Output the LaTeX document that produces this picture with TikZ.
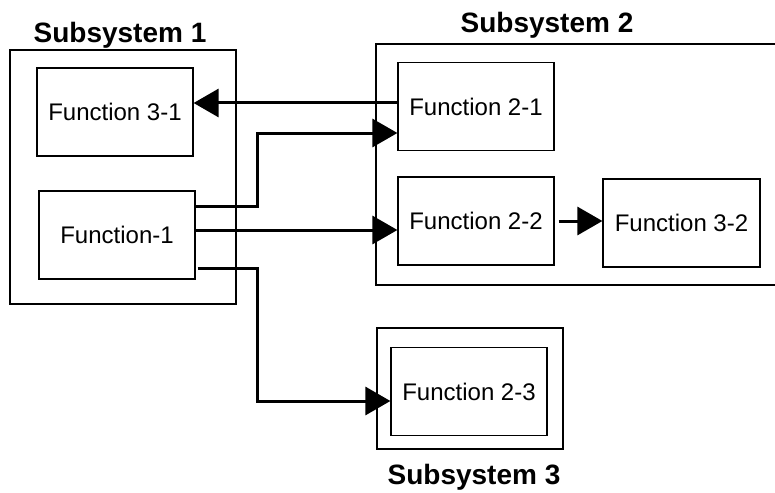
\documentclass[tikz,border=0pt]{standalone}
\usepackage{fontspec}
\setmainfont{Liberation Sans}
\usetikzlibrary{positioning}
\usetikzlibrary{arrows.meta}

\begin{document}
\begin{tikzpicture}[x=0.5pt, y=-0.5pt,
  func/.style={draw, line width=0.6pt, rectangle, minimum width=78pt, minimum height=44pt, inner sep=0pt, font=\fontsize{12}{14}\selectfont},
  sys/.style={draw, line width=0.6pt},
  title/.style={font=\bfseries\fontsize{14}{16}\selectfont},
  conn/.style={line width=1.5pt, -{Triangle[length=12.5pt, width=14pt]}}]

\useasboundingbox (0,0) rectangle (775,492);

% subsystems
\draw[sys] (10,50) rectangle (236,304);
\draw[sys] (775,44) -- (376,44) -- (376,285) -- (775,285);
\draw[sys] (377,328) rectangle (563,449);
\node[title] (s1) at (120,35) {Subsystem 1};
\node[title] (s2) at (547,25) {Subsystem 2};
\node[title] (s3) at (474,477) {Subsystem 3};

% functions
\node[func] (f31) at (115,112) {Function 3-1};
\node[func] (f1) at (117,235) {Function-1};
\node[func] (f21) at (476,106.5) {Function 2-1};
\node[func] (f22) at (476,221) {Function 2-2};
\node[func, minimum width=78.5pt] (f32) at (681.5,223) {Function 3-2};
\node[func] (f23) at (469,391.5) {Function 2-3};

% ports
\coordinate (bend) at (257,0);
\coordinate (o1) at ([yshift=14.5pt]f1.east);
\coordinate (o2) at ([yshift=2.5pt]f1.east);
\coordinate (o3) at ([xshift=1pt, yshift=-16.5pt]f1.east);
\coordinate (i21) at ([yshift=-13.25pt]f21.west);
\coordinate (o21) at ([yshift=1.75pt]f21.west);
\coordinate (i23) at ([yshift=-4.75pt]f23.west);

\draw[conn] (o21) -- (o21 -| f31.east);
\draw[conn] (o1) -- (o1 -| bend) |- (i21);
\draw[conn] (o2) -- (o2 -| f22.west);
\draw[conn] (o3) -- (o3 -| bend) |- (i23);
\draw[conn, shorten <=2pt] (f22.east) -- (f22.east -| f32.west);
\end{tikzpicture}
\end{document}
